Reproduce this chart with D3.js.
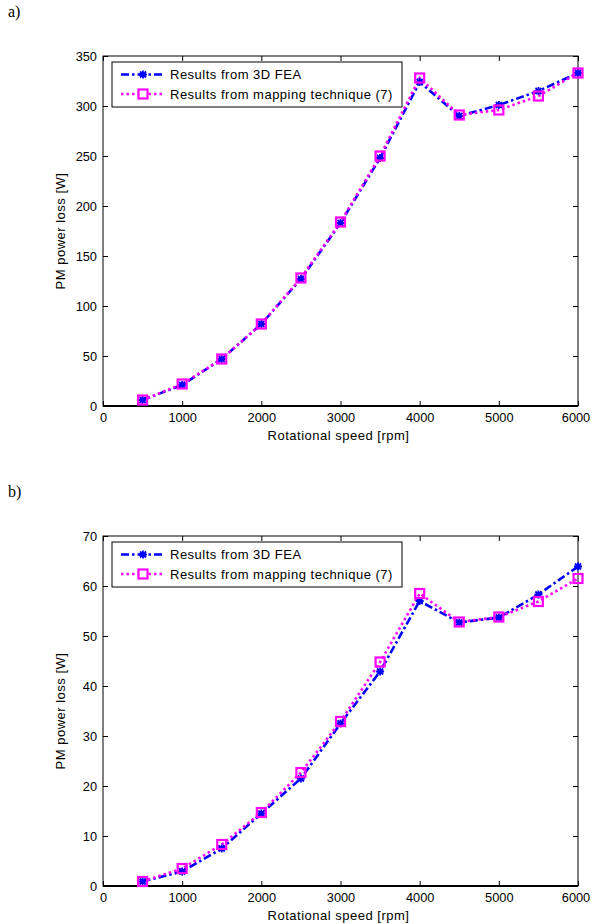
<!DOCTYPE html>
<html><head><meta charset="utf-8">
<script src="https://cdn.jsdelivr.net/npm/d3@7/dist/d3.min.js"></script>
<style>body{margin:0;background:#fff}svg{display:block}</style>
</head><body>
<svg id="c" width="591" height="924"></svg>
<script>
const speeds = [500,1000,1500,2000,2500,3000,3500,4000,4500,5000,5500,6000];
const feaA = [6,21,47,82,127,183,248,324,290,301,315,333];
const mapA = [6,22,47,82,128,184,250,328,291,296,310,333];
const feaB = [0.9,2.9,7.5,14.5,21.5,32.5,42.9,57,52.7,53.7,58.3,63.9];
const mapB = [0.9,3.5,8.3,14.7,22.7,32.9,44.8,58.5,52.8,53.8,56.9,61.5];
const xTicks = [0,1000,2000,3000,4000,5000,6000];
const yTicksA = [0,50,100,150,200,250,300,350];
const yTicksB = [0,10,20,30,40,50,60,70];
const legendLabels = ["Results from 3D FEA","Results from mapping technique (7)"];
const panelLabels = ["a)","b)"];

const svg = d3.select("#c");
const font = "Liberation Sans, Arial, sans-serif";

function panel(opts){
  const {top, bottom, yMax, yTicks, fea, map, label, labelY} = opts;
  const left = 103, right = 578;
  const x = d3.scaleLinear().domain([0,6000]).range([left,right]);
  const y = d3.scaleLinear().domain([0,yMax]).range([bottom,top]);
  const g = svg.append("g");

  g.append("text").attr("x",8).attr("y",labelY).attr("font-family","Liberation Serif, Times New Roman, serif")
    .attr("font-size",16).text(label);

  const ax = g.append("g").attr("transform",`translate(0,${bottom})`)
    .call(d3.axisBottom(x).tickValues(xTicks).tickSizeInner(-5).tickSizeOuter(0).tickPadding(7).tickFormat(d3.format("d")));
  const axT = g.append("g").attr("transform",`translate(0,${top})`)
    .call(d3.axisTop(x).tickValues(xTicks).tickSizeInner(-5).tickSizeOuter(0).tickFormat(""));
  const ay = g.append("g").attr("transform",`translate(${left},0)`)
    .call(d3.axisLeft(y).tickValues(yTicks).tickSizeInner(-5).tickSizeOuter(0).tickPadding(6).tickFormat(d3.format("d")));
  const ayR = g.append("g").attr("transform",`translate(${right},0)`)
    .call(d3.axisRight(y).tickValues(yTicks).tickSizeInner(-5).tickSizeOuter(0).tickFormat(""));
  [ax,axT,ay,ayR].forEach(a=>{
    a.select(".domain").remove();
    a.selectAll("line").attr("stroke","#000").attr("stroke-width",1);
    a.selectAll("text").attr("font-family",font).attr("font-size",12.8).attr("fill","#000");
  });
  ax.selectAll(".tick text").filter(d=>d===6000).attr("dx",-2.5);
  g.append("rect").attr("x",left).attr("y",top).attr("width",right-left).attr("height",bottom-top)
    .attr("fill","none").attr("stroke","#000").attr("stroke-width",1);
  g.append("line").attr("x1",left).attr("x2",right).attr("y1",bottom).attr("y2",bottom).attr("stroke","#000").attr("stroke-width",2);

  g.append("text").attr("x",(left+right)/2-2).attr("y",bottom+34).attr("text-anchor","middle")
    .attr("font-family",font).attr("font-size",13).attr("letter-spacing",0.5).text("Rotational speed [rpm]");
  g.append("text").attr("transform",`translate(65,${(top+bottom)/2}) rotate(-90)`).attr("text-anchor","middle")
    .attr("font-family",font).attr("font-size",13).attr("letter-spacing",0.5).text("PM power loss [W]");

  const line = d3.line().x((d,i)=>x(speeds[i])).y(d=>y(d));
  g.append("path").datum(fea).attr("d",line).attr("fill","none").attr("stroke","#0000ff")
    .attr("stroke-width",2.6).attr("stroke-dasharray","8,3,2.5,3");
  g.append("path").datum(map).attr("d",line).attr("fill","none").attr("stroke","#ff00ff")
    .attr("stroke-width",2.6).attr("stroke-dasharray","2.5,3");

  const star = "M-4,0H4M0,-4V4M-3,-3L3,3M-3,3L3,-3";
  g.selectAll(".fm").data(fea).enter().append("path")
    .attr("transform",(d,i)=>`translate(${x(speeds[i])},${y(d)})`).attr("d",star)
    .attr("stroke","#0000ff").attr("stroke-width",1.8).attr("fill","none");
  g.selectAll(".mm").data(map).enter().append("rect")
    .attr("x",(d,i)=>x(speeds[i])-4.5).attr("y",d=>y(d)-4.5).attr("width",9).attr("height",9)
    .attr("fill","none").attr("stroke","#ff00ff").attr("stroke-width",2.2);

  const lx = left+9, ly = top+6, lw = 290, lh = 45;
  const lg = g.append("g");
  lg.append("rect").attr("x",lx).attr("y",ly).attr("width",lw).attr("height",lh)
    .attr("fill","#fff").attr("stroke","#000").attr("stroke-width",1);
  const rows = [ly+12.5, ly+32];
  lg.append("line").attr("x1",lx+9).attr("x2",lx+52).attr("y1",rows[0]).attr("y2",rows[0])
    .attr("stroke","#0000ff").attr("stroke-width",2.6).attr("stroke-dasharray","8,3,2.5,3");
  lg.append("path").attr("transform",`translate(${lx+31},${rows[0]})`).attr("d",star)
    .attr("stroke","#0000ff").attr("stroke-width",1.8);
  lg.append("line").attr("x1",lx+9).attr("x2",lx+52).attr("y1",rows[1]).attr("y2",rows[1])
    .attr("stroke","#ff00ff").attr("stroke-width",2.6).attr("stroke-dasharray","2.5,3");
  lg.append("rect").attr("x",lx+31-4.5).attr("y",rows[1]-4.5).attr("width",9).attr("height",9)
    .attr("fill","#fff").attr("stroke","#ff00ff").attr("stroke-width",2.2);
  legendLabels.forEach((t,i)=>{
    lg.append("text").attr("x",lx+58).attr("y",rows[i]+4.5).attr("font-family",font)
      .attr("font-size",13).attr("letter-spacing",0.5).text(t);
  });
}

panel({top:56, bottom:406, yMax:350, yTicks:yTicksA, fea:feaA, map:mapA, label:panelLabels[0], labelY:17});
panel({top:536, bottom:886, yMax:70, yTicks:yTicksB, fea:feaB, map:mapB, label:panelLabels[1], labelY:497});
</script>
</body></html>
